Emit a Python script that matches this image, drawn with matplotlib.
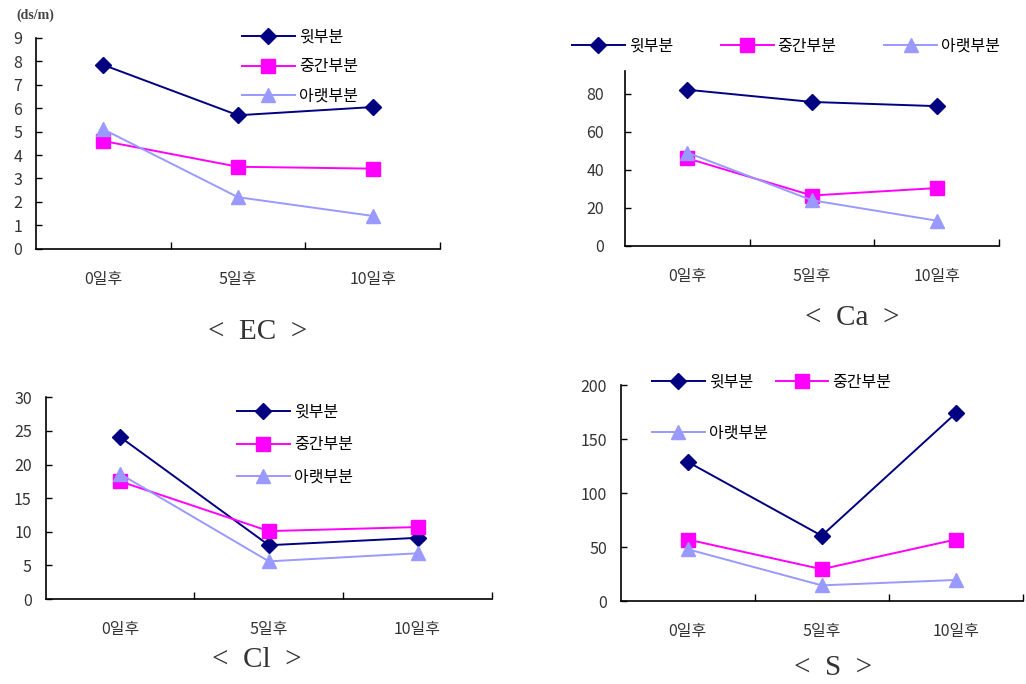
import matplotlib.pyplot as plt
from matplotlib.ticker import MultipleLocator, FixedLocator

plt.rcParams['font.family'] = ['Noto Sans CJK KR', 'DejaVu Sans']

days = ['0일후', '5일후', '10일후']
parts = ['윗부분', '중간부분', '아랫부분']

ec_top = [7.85, 5.7, 6.05]
ec_mid = [4.6, 3.5, 3.42]
ec_bot = [5.1, 2.2, 1.4]

ca_top = [82, 75.6, 73.4]
ca_mid = [46, 26.5, 30.4]
ca_bot = [49, 24, 13.3]

cl_top = [24.1, 8.0, 9.1]
cl_mid = [17.5, 10.1, 10.7]
cl_bot = [18.6, 5.6, 6.8]

s_top = [129, 60.5, 174]
s_mid = [57, 29.5, 57]
s_bot = [48, 14.5, 19.5]

colors = ['#000080', '#ff00ff', '#9999ff']
markers = ['D', 's', '^']
msizes = [8.5, 9.5, 9.5]

fig = plt.figure(figsize=(10.26, 6.84), dpi=100)
W, H = 1026, 684


def make_axes(x0, x1, y_top, y_bot):
    # pixel box -> figure fraction
    return fig.add_axes([x0 / W, 1 - y_bot / H, (x1 - x0) / W, (y_bot - y_top) / H])


def draw(ax, series, ymax, step, ypad):
    x = range(len(days))
    lines = []
    for vals, c, m, ms, name in zip(series, colors, markers, msizes, parts):
        ln, = ax.plot(x, vals, color=c, marker=m, markersize=ms, lw=1.4,
                      markeredgecolor=c, label=name, clip_on=False)
        lines.append(ln)
    ax.set_xlim(-0.5, 2.5)
    ax.set_ylim(0, ymax)
    ax.yaxis.set_major_locator(MultipleLocator(step))
    ax.set_xticks(list(x))
    ax.set_xticklabels(days)
    ax.xaxis.set_minor_locator(FixedLocator([0.5, 1.5, 2.5]))
    ax.tick_params(axis='x', which='major', length=0, pad=16, labelsize=11.5, labelcolor='#333333')
    ax.tick_params(axis='x', which='minor', length=5, direction='in', width=1)
    ax.tick_params(axis='y', length=4, direction='in', width=1, pad=ypad, labelsize=11.5,
                   labelcolor='#333333')
    for s in ['top', 'right']:
        ax.spines[s].set_visible(False)
    for s in ['left', 'bottom']:
        ax.spines[s].set_linewidth(1.2)
    return lines


leg_kw = dict(frameon=False, fontsize=11.5, handlelength=3.3, handletextpad=0.25,
              borderpad=0, borderaxespad=0, loc='upper left', bbox_transform=fig.transFigure)
title_kw = dict(family='Liberation Serif', fontsize=21, color='#333333', ha='center', va='center')

# EC
ax1 = make_axes(36, 440, 38, 248.7)
l1 = draw(ax1, [ec_top, ec_mid, ec_bot], 9, 1, 10)
ax1.legend(handles=l1, bbox_to_anchor=(242 / W, 1 - 29 / H), labelspacing=0.78, **leg_kw)
fig.text(35 / W, 1 - 15 / H, '(ds/m)', family='Liberation Serif', fontsize=10,
         color='#444444', ha='center', va='center', weight='bold')
fig.text(258 / W, 1 - 332 / H, '<  EC  >', **title_kw)

# Ca
ax2 = make_axes(625, 999, 70.7, 246)
l2 = draw(ax2, [ca_top, ca_mid, ca_bot], 92, 20, 15)
ax2.legend(handles=l2, bbox_to_anchor=(572 / W, 1 - 38 / H), ncol=3, columnspacing=3.0, **leg_kw)
fig.text(852 / W, 1 - 318 / H, '<  Ca  >', **title_kw)

# Cl
ax3 = make_axes(45.7, 492, 397.3, 599)
l3 = draw(ax3, [cl_top, cl_mid, cl_bot], 30, 5, 10)
ax3.legend(handles=l3, bbox_to_anchor=(237 / W, 1 - 404 / H), labelspacing=0.95, **leg_kw)
fig.text(257 / W, 1 - 660 / H, '<  Cl  >', **title_kw)

# S
ax4 = make_axes(620.7, 1022.7, 385.3, 601)
l4 = draw(ax4, [s_top, s_mid, s_bot], 200, 50, 10)
ax4.legend(handles=[l4[0], l4[2], l4[1]], bbox_to_anchor=(652 / W, 1 - 374 / H), ncol=2,
           labelspacing=2.1, columnspacing=0.5, **leg_kw)
fig.text(833 / W, 1 - 668 / H, '<  S  >', **title_kw)

fig.savefig('out.png', dpi=100)
